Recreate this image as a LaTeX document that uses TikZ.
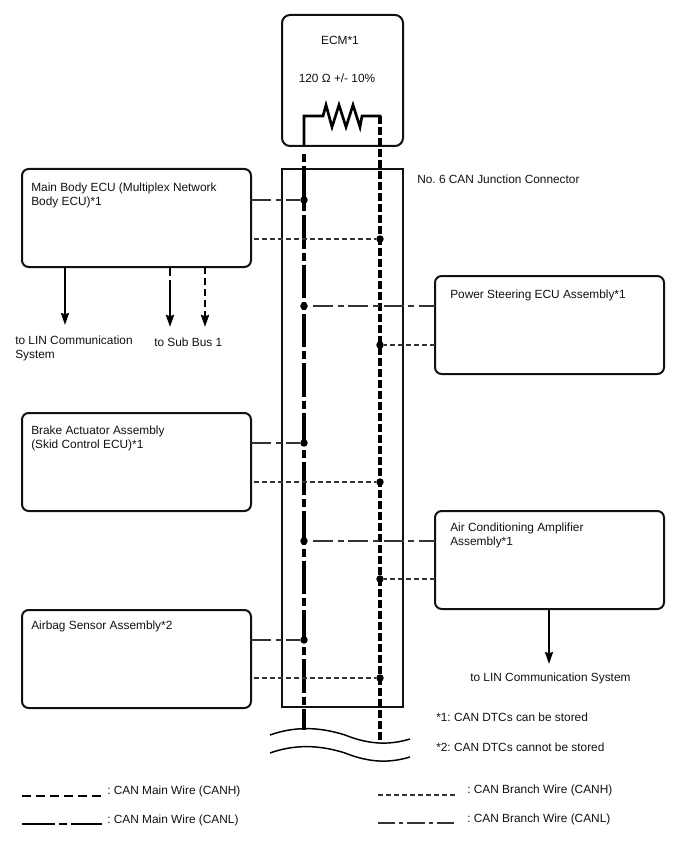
\documentclass[tikz,border=0pt]{standalone}
\usepackage{fontspec}
\setmainfont{Liberation Sans}
\usetikzlibrary{arrows.meta, positioning}
\definecolor{Ink}{HTML}{111111}
\definecolor{Wire}{HTML}{000000}
\definecolor{Branch}{HTML}{333333}

\begin{document}
\frenchspacing
\begin{tikzpicture}[
    x=0.75pt, y=-0.75pt,
    ecubox/.style={rectangle, rounded corners=5pt, draw=Ink, line width=1.5pt, outer sep=0pt,
                  minimum width=171.75pt, minimum height=73.5pt, anchor=north west, inner sep=0pt},
    txt/.style={font=\fontsize{8.9}{10.5}\selectfont, align=left, text=Ink, inner sep=0pt, anchor=west},
    dotmark/.style={circle, fill=black, minimum size=5.6pt, inner sep=0pt},
    mainh/.style={line width=2.3pt, dash pattern=on 6pt off 2.25pt, color=Wire},
    mainl/.style={line width=2.3pt, dash pattern=on 25pt off 3pt on 6pt off 3pt, color=Wire},
    branchh/.style={line width=0.8pt, dash pattern=on 4pt off 2pt, color=Branch},
    branchl/.style={line width=0.8pt, dash pattern=on 15pt off 3.5pt on 4.5pt off 3.5pt, color=Branch},
    arr/.style={-{Stealth[length=9pt, width=6pt, inset=1pt]}},
  ]
    \useasboundingbox (0,0) rectangle (688,852);

    \node[rectangle, rounded corners=6pt, draw=Ink, line width=1.5pt, anchor=north west, outer sep=0pt,
          minimum width=90.75pt, minimum height=98.25pt, inner sep=0pt] (ecm) at (282,15) {};
    \node[rectangle, draw=Ink, line width=1.5pt, anchor=north west, outer sep=0pt,
          minimum width=90.75pt, minimum height=403.5pt, inner sep=0pt] (jc) at (282,169) {};

    \node[ecubox] (body) at (22,169) {};
    \node[ecubox] (steer) at (435,276) {};
    \node[ecubox] (brake) at (22,413) {};
    \node[ecubox] (aircon) at (435,511) {};
    \node[ecubox] (airbag) at (22,610) {};

    % text in the boxes
    \node[txt, anchor=center] (ecmname) at (340,40) {ECM*1};
    \node[txt, anchor=center] (ohm) at (337,78) {120 Ω +/- 10\%};
    \node[txt, anchor=north west] (bodyname) at (31,183) {Main Body ECU (Multiplex Network\\Body ECU)*1};
    \node[txt] (steername) at (450,295) {Power Steering ECU Assembly*1};
    \node[txt, anchor=north west] (brakename) at (31,426) {Brake Actuator Assembly\\(Skid Control ECU)*1};
    \node[txt, anchor=north west] (airconname) at (450,523) {Air Conditioning Amplifier\\Assembly*1};
    \node[txt] (airbagname) at (31,626) {Airbag Sensor Assembly*2};
    \node[txt] (jcname) at (417,179) {No. 6 CAN Junction Connector};

    % resistor ends and wire ends
    \coordinate (rl) at (304,116);
    \coordinate (rr) at (380,116);
    \coordinate (lend) at (304,730);
    \coordinate (hend) at (380,741);

    \draw[line width=2pt, line join=miter, color=Wire] (lend |- ecm.south) -- (rl) -- (323,116) -- (326,105) -- (332,127)
      -- (339,105) -- (346,127) -- (353,105) -- (360,127) -- (362,116) -- (rr) -- ++(0,1);
    \draw[mainh] (rr) -- (hend);
    \draw[mainl, dash phase=25pt] (lend |- ecm.south) ++(0,4) -- (lend);

    % junction points
    \node[dotmark] (p1) at (304,200) {};
    \node[dotmark] (p2) at (380,239) {};
    \node[dotmark] (p3) at (304,306) {};
    \node[dotmark] (p4) at (380,345) {};
    \node[dotmark] (p5) at (304,443) {};
    \node[dotmark] (p6) at (380,482) {};
    \node[dotmark] (p7) at (304,541) {};
    \node[dotmark] (p8) at (380,579) {};
    \node[dotmark] (p9) at (304,640) {};
    \node[dotmark] (p10) at (380,678) {};

    \draw[branchl] (body.east |- p1) -- (p1);
    \draw[branchh] (body.east |- p2) ++(3,0) -- (p2);
    \draw[branchl] (p3) ++(9,0) -- (steer.west |- p3);
    \draw[branchh] (steer.west |- p4) -- (p4);
    \draw[branchl] (brake.east |- p5) -- (p5);
    \draw[branchh] (brake.east |- p6) ++(3,0) -- (p6);
    \draw[branchl] (p7) ++(9,0) -- (aircon.west |- p7);
    \draw[branchh] (aircon.west |- p8) -- (p8);
    \draw[branchl] (airbag.east |- p9) -- (p9);
    \draw[branchh] (airbag.east |- p10) ++(3,0) -- (p10);

    % outgoing arrows
    \node[txt, anchor=north west] (linleft) at (15,336) {to LIN Communication\\System};
    \node[txt] (subbus) at (154,342) {to Sub Bus 1};
    \node[txt] (linright) at (470,678) {to LIN Communication System};
    \coordinate (a1) at (65,325);
    \coordinate (a2) at (170,327);
    \coordinate (a3) at (205,327);
    \coordinate (a4) at (549,664);
    \draw[arr, line width=1.5pt] (a1 |- body.south) -- (a1);
    \draw[arr, line width=2.2pt, dash pattern=on 0pt off 1pt on 6pt off 3pt on 40pt] (a2 |- body.south) -- (a2);
    \draw[arr, line width=2.2pt, dash pattern=on 5.5pt off 2.75pt] (a3 |- body.south) -- (a3);
    \draw[arr, line width=1.5pt] (a4 |- aircon.south) -- (a4);

    % cut marks
    \draw[line width=1.1pt] (270,735) .. controls (295,726) and (320,727) .. (345,735) .. controls (370,745) and (390,745) .. (410,739);
    \draw[line width=1.1pt] (270,753) .. controls (295,744) and (320,745) .. (345,753) .. controls (370,763) and (390,763) .. (410,757);

    \node[txt] (note1) at (436,717) {*1: CAN DTCs can be stored};
    \node[txt] (note2) at (436,747) {*2: CAN DTCs cannot be stored};

    % legend
    \node[txt] (keymh) at (107,791) {: CAN Main Wire (CANH)};
    \node[txt] (keyml) at (107,820) {: CAN Main Wire (CANL)};
    \node[txt] (keybh) at (467,790) {: CAN Branch Wire (CANH)};
    \node[txt] (keybl) at (467,819) {: CAN Branch Wire (CANL)};
    \coordinate (mh0) at (22,796);
    \coordinate (mh1) at (102,796);
    \coordinate (ml0) at (22,824);
    \coordinate (ml1) at (102,824);
    \coordinate (bh0) at (378,795);
    \coordinate (bh1) at (457,795);
    \coordinate (bl0) at (378,823);
    \coordinate (bl1) at (457,823);
    \draw[line width=2.2pt, dash pattern=on 6.5pt off 4pt] (mh0) -- (mh1);
    \draw[line width=2.2pt, dash pattern=on 25pt off 3pt on 6pt off 3pt] (ml0) -- (ml1);
    \draw[branchh] (bh0) -- (bh1);
    \draw[line width=0.8pt, color=Branch, dash pattern=on 13pt off 3pt on 3pt off 3pt] (bl0) -- (bl1);
  \end{tikzpicture}
\end{document}
